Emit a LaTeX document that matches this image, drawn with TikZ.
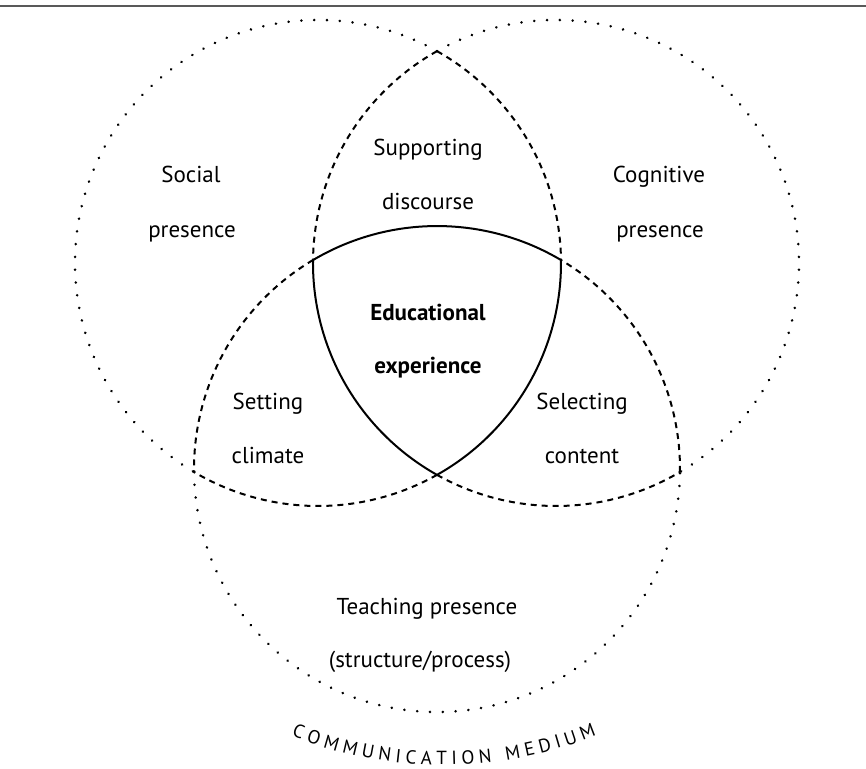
\documentclass[tikz,border=0pt]{standalone}
\usepackage{fontspec}
\setmainfont{PT Sans}
\usetikzlibrary{decorations.text}
\begin{document}
\begin{tikzpicture}[x=0.5pt,y=0.5pt,
  dotline/.style={line width=1.4pt, dash pattern=on 0.01pt off 6.4pt, line cap=round},
  dashline/.style={line width=1pt, dash pattern=on 3pt off 2.5pt},
  solidline/.style={line width=1pt, line join=round},
  lbl/.style={font=\fontsize{11.5}{12}\selectfont, anchor=base, inner sep=0pt},
  blbl/.style={lbl, font=\fontsize{11.5}{12}\selectfont\bfseries},
]
\useasboundingbox (0,0) rectangle (866,768);
\draw[line width=1.3pt, black!65] (0,762) -- (866,762);
\coordinate (L) at (318,505);
\coordinate (R) at (556,505);
\coordinate (B) at (437,299);
\coordinate (T) at (443,413);
\def\rr{243}
% left circle
\draw[dashline] ([shift={(60.68:\rr)}]L) arc[start angle=60.68, end angle=0.69, radius=\rr];
\draw[dashline] ([shift={(-60.68:\rr)}]L) arc[start angle=-60.68, end angle=-120.69, radius=\rr];
\draw[dotline] ([shift={(60.68:\rr)}]L) arc[start angle=60.68, end angle=239.31, radius=\rr];
% right circle
\draw[dashline] ([shift={(119.32:\rr)}]R) arc[start angle=119.32, end angle=179.31, radius=\rr];
\draw[dashline] ([shift={(240.68:\rr)}]R) arc[start angle=240.68, end angle=300.69, radius=\rr];
\draw[dotline] ([shift={(119.32:\rr)}]R) arc[start angle=119.32, end angle=-59.31, radius=\rr];
% bottom circle
\draw[dashline] ([shift={(120.69:\rr)}]B) arc[start angle=120.69, end angle=180.69, radius=\rr];
\draw[dashline] ([shift={(-0.69:\rr)}]B) arc[start angle=-0.69, end angle=59.31, radius=\rr];
\draw[dotline] ([shift={(180.69:\rr)}]B) arc[start angle=180.69, end angle=359.31, radius=\rr];
% central region
\draw[solidline] ([shift={(0.69:\rr)}]L) arc[start angle=0.69, end angle=-60.68, radius=\rr]
  arc[start angle=240.68, end angle=179.31, radius=\rr]
  arc[start angle=120.69, end angle=59.31, radius=\rr] -- cycle;
% labels
\node[lbl] (soc1) at (191,586) {Social};
\node[lbl] (soc2) at (192,531) {presence};
\node[lbl] (cog1) at (659,586) {Cognitive};
\node[lbl] (cog2) at (660,531) {presence};
\node[lbl] (sup1) at (428,613) {Supporting};
\node[lbl] (sup2) at (428,559) {discourse};
\node[blbl] (edu1) at (428,448) {Educational};
\node[blbl] (edu2) at (428,395) {experience};
\node[lbl] (set1) at (268,359) {Setting};
\node[lbl] (set2) at (268,305) {climate};
\node[lbl] (sel1) at (582,359) {Selecting};
\node[lbl] (sel2) at (582,305) {content};
\node[lbl] (tea1) at (427,154) {Teaching presence};
\node[lbl] (tea2) at (420,101) {(structure/process)};
\path[decorate, decoration={text along path,
  text={|\fontsize{9.5}{9.5}\selectfont|COMMUNICATION MEDIUM},
  text align={fit to path}}]
  ([shift={(248.3:410)}]T) arc[start angle=248.3, end angle=292, radius=410];
\end{tikzpicture}
\end{document}
